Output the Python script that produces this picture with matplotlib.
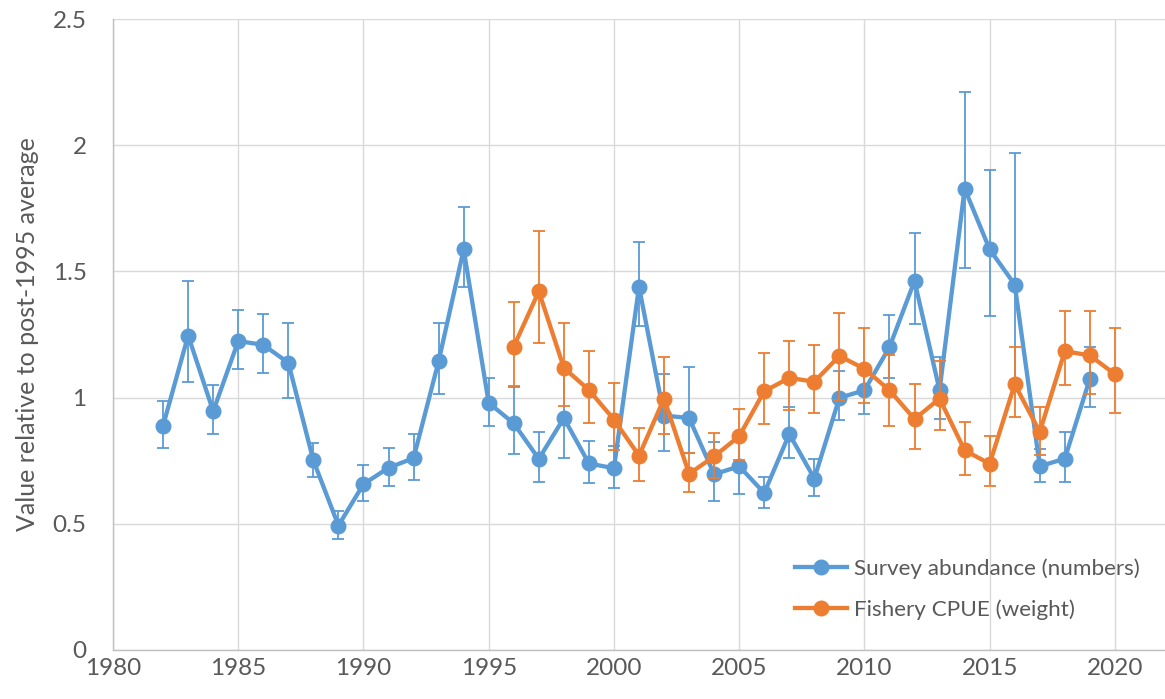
import matplotlib
matplotlib.use("Agg")
import matplotlib.pyplot as plt
import numpy as np

survey_years = list(range(1982, 2020))
survey = [0.889, 1.246, 0.946, 1.224, 1.209, 1.138, 0.751, 0.493, 0.657, 0.722, 0.760, 1.144, 1.587, 0.979,
          0.898, 0.757, 0.919, 0.739, 0.720, 1.439, 0.929, 0.919, 0.696, 0.728, 0.622, 0.856, 0.679, 0.999,
          1.029, 1.200, 1.462, 1.029, 1.828, 1.587, 1.448, 0.728, 0.758, 1.075]
survey_hi = [0.987, 1.462, 1.049, 1.347, 1.333, 1.295, 0.821, 0.552, 0.731, 0.802, 0.856, 1.295, 1.757, 1.077,
             1.041, 0.864, 1.107, 0.828, 0.807, 1.615, 1.094, 1.123, 0.826, 0.853, 0.685, 0.963, 0.758, 1.104,
             1.130, 1.329, 1.653, 1.161, 2.209, 1.903, 1.968, 0.796, 0.864, 1.200]
survey_lo = [0.799, 1.063, 0.855, 1.114, 1.098, 0.997, 0.685, 0.439, 0.590, 0.651, 0.675, 1.014, 1.439, 0.886,
             0.775, 0.664, 0.762, 0.661, 0.640, 1.284, 0.787, 0.780, 0.592, 0.620, 0.562, 0.759, 0.610, 0.910,
             0.936, 1.078, 1.290, 0.915, 1.514, 1.325, 1.069, 0.665, 0.664, 0.963]

cpue_years = list(range(1996, 2021))
cpue = [1.202, 1.421, 1.118, 1.030, 0.913, 0.770, 0.996, 0.698, 0.767, 0.847, 1.025, 1.078, 1.063, 1.165,
        1.114, 1.029, 0.915, 0.996, 0.791, 0.738, 1.053, 0.864, 1.184, 1.167, 1.093]
cpue_hi = [1.380, 1.659, 1.294, 1.183, 1.056, 0.881, 1.160, 0.782, 0.860, 0.955, 1.175, 1.226, 1.209, 1.334,
           1.274, 1.170, 1.052, 1.144, 0.902, 0.847, 1.202, 0.964, 1.343, 1.345, 1.274]
cpue_lo = [1.044, 1.217, 0.967, 0.899, 0.791, 0.671, 0.857, 0.626, 0.681, 0.754, 0.896, 0.950, 0.938, 0.990,
           0.977, 0.889, 0.796, 0.870, 0.693, 0.648, 0.922, 0.771, 1.048, 1.013, 0.939]

x_ticks = [1980, 1985, 1990, 1995, 2000, 2005, 2010, 2015, 2020]
y_ticks = [0, 0.5, 1, 1.5, 2, 2.5]
y_tick_labels = ["0", "0.5", "1", "1.5", "2", "2.5"]

BLUE = "#5B9BD5"
ORANGE = "#ED7D31"
TEXT = "#595959"

plt.rcParams['font.family'] = ['Lato', 'DejaVu Sans']

fig = plt.figure(figsize=(11.65, 6.99), dpi=100)
ax = fig.add_axes([113 / 1165, 1 - 650 / 699, 1 - 113 / 1165, 631 / 699])

def draw(years, vals, lo, hi, color, label, z):
    v = np.array(vals)
    yerr = np.vstack([v - np.array(lo), np.array(hi) - v])
    ax.errorbar(years, v, yerr=yerr, fmt='none', ecolor=color, elinewidth=1.3,
                capsize=4.5, capthick=1.3, zorder=z)
    ax.plot(years, v, color=color, lw=3.1, marker='o', markersize=10.5,
            label=label, zorder=z + 0.5)

draw(survey_years, survey, survey_lo, survey_hi, BLUE, "Survey abundance (numbers)", 3)
draw(cpue_years, cpue, cpue_lo, cpue_hi, ORANGE, "Fishery CPUE (weight)", 4)

ax.set_xlim(1980, 2022)
ax.set_ylim(0, 2.5)
ax.set_xticks(x_ticks)
ax.set_yticks(y_ticks)
ax.set_yticklabels(y_tick_labels)
ax.grid(True, color="#D9D9D9", lw=1.0)
ax.set_axisbelow(True)
for s in ['top', 'right']:
    ax.spines[s].set_visible(False)
for s in ['left', 'bottom']:
    ax.spines[s].set_color("#BFBFBF")
    ax.spines[s].set_linewidth(1.0)
ax.tick_params(axis='both', length=0, labelsize=17.5, labelcolor=TEXT)
ax.tick_params(axis='y', pad=19)
ax.tick_params(axis='x', pad=6)
ax.set_ylabel("Value relative to post-1995 average", fontsize=18, color=TEXT, labelpad=10)

leg = ax.legend(loc='lower right', frameon=False, fontsize=16.2, handlelength=2.3,
                labelspacing=0.9, handletextpad=0.3, bbox_to_anchor=(0.995, 0.016))
for t in leg.get_texts():
    t.set_color(TEXT)

fig.savefig("out.png", dpi=100)
